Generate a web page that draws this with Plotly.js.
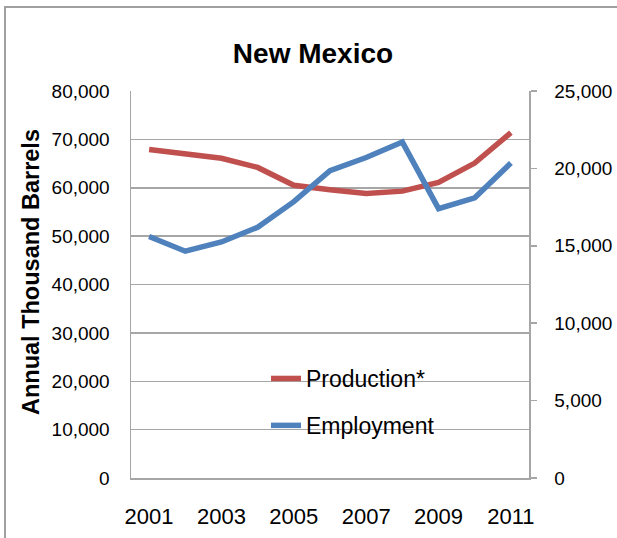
<!DOCTYPE html>
<html>
<head>
<meta charset="utf-8">
<script src="https://cdn.plot.ly/plotly-3.0.1.min.js"></script>
<style>
html,body{margin:0;padding:0;background:#fff;}
#chart{width:617px;height:538px;}
</style>
</head>
<body>
<div id="chart"></div>
<script>
// Data
const years = [2001, 2002, 2003, 2004, 2005, 2006, 2007, 2008, 2009, 2010, 2011];
const production = [67900, 67100, 66100, 64200, 60500, 59600, 58800, 59300, 61100, 65100, 71400];
const employment = [15600, 14650, 15250, 16200, 17850, 19850, 20700, 21700, 17400, 18100, 20350];
const xTickVals = [2001, 2003, 2005, 2007, 2009, 2011];
const xTickText = ["2001", "2003", "2005", "2007", "2009", "2011"];
const seriesNames = ["Production*", "Employment"];

const FONT = "'Liberation Sans', Arial, sans-serif";
const GRID = "#a6a6a6";

const traces = [
  {
    x: years, y: production, name: seriesNames[0], type: "scatter", mode: "lines",
    line: {color: "#C0504D", width: 5.5}, yaxis: "y", legendgroup: "a"
  },
  {
    x: years, y: employment, name: seriesNames[1], type: "scatter", mode: "lines",
    line: {color: "#4F81BD", width: 5.5}, yaxis: "y2", legendgroup: "b"
  }
];

const layout = {
  width: 617, height: 538,
  margin: {l: 131, r: 88, t: 91, b: 60},
  paper_bgcolor: "#fff", plot_bgcolor: "#fff",
  font: {family: FONT, color: "#000"},
  title: {
    text: "<b>New Mexico</b>", font: {size: 28, family: FONT, color: "#000"},
    xref: "container", x: 313/617, xanchor: "center",
    yref: "container", y: 1 - 53/538, yanchor: "middle"
  },
  xaxis: {
    range: [2000.5, 2011.5], tickvals: xTickVals, ticktext: xTickText,
    showgrid: false, zeroline: false, showline: true, linecolor: GRID, linewidth: 1.5,
    ticks: "", tickfont: {size: 22, family: FONT}, ticklabelstandoff: 18
  },
  yaxis: {
    range: [0, 80000], dtick: 10000, tickformat: ",d",
    showgrid: true, gridcolor: GRID, gridwidth: 1.5, zeroline: false,
    showline: true, linecolor: GRID, linewidth: 1.5, mirror: false,
    ticks: "", tickfont: {size: 19, family: FONT}, ticklabelstandoff: 16
  },
  yaxis2: {
    range: [0, 25000], dtick: 5000, tickformat: ",d", overlaying: "y", side: "right",
    showgrid: false, zeroline: false, showline: true, linecolor: GRID, linewidth: 1.5,
    ticks: "outside", ticklen: 6, tickcolor: GRID, tickwidth: 1.5,
    tickfont: {size: 19, family: FONT}, ticklabelstandoff: 14
  },
  showlegend: true,
  legend: {
    x: (266 - 131) / 398, xanchor: "left",
    y: (478 - 357) / 387, yanchor: "top",
    bgcolor: "rgba(0,0,0,0)", borderwidth: 0,
    font: {size: 23, family: FONT, color: "#000"},
    tracegroupgap: 14, traceorder: "grouped"
  },
  annotations: [{
    text: "<b>Annual Thousand Barrels</b>", textangle: -90,
    xref: "paper", yref: "paper", x: (31 - 131) / 398, y: (478 - 272) / 387,
    xanchor: "center", yanchor: "middle", showarrow: false,
    font: {size: 23.5, family: FONT, color: "#000"}
  }],
  shapes: [{
    type: "rect", xref: "paper", yref: "paper",
    x0: (5 - 131) / 398, x1: (625 - 131) / 398,
    y0: (478 - 550) / 387, y1: (478 - 7) / 387,
    line: {color: "#a0a0a0", width: 2}, fillcolor: "rgba(0,0,0,0)", layer: "below"
  }]
};

Plotly.newPlot("chart", traces, layout, {staticPlot: true, displayModeBar: false});
</script>
</body>
</html>
